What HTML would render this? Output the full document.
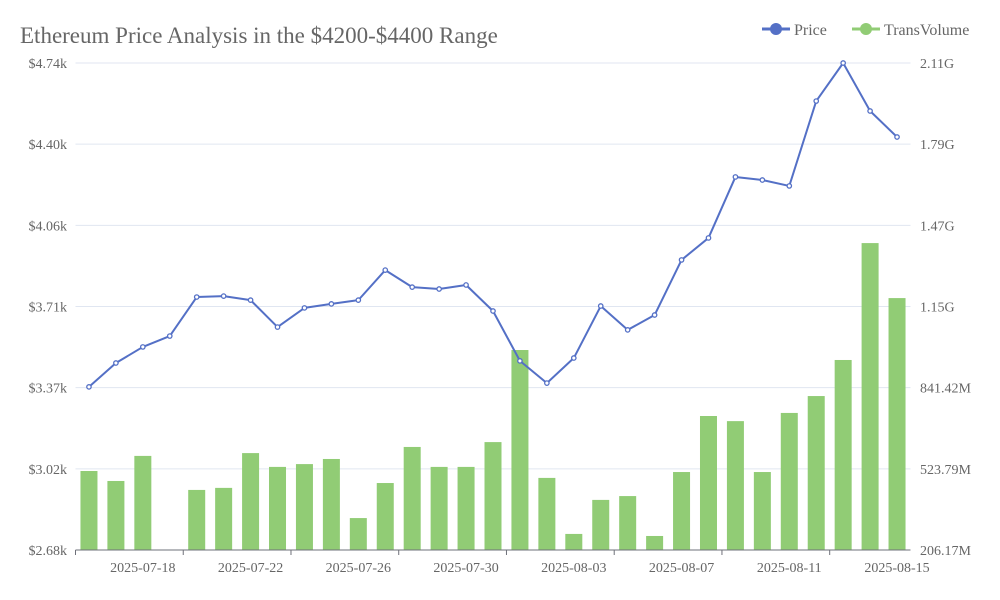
<!DOCTYPE html>
<html><head><meta charset="utf-8">
<style>
html,body{margin:0;padding:0;background:#fff;}
svg{display:block;font-family:"Liberation Serif",serif;}
</style></head>
<body>
<svg id="chart" width="1000" height="600">
<text x="20" y="43" font-size="23" fill="#666">Ethereum Price Analysis in the $4200-$4400 Range</text>
<g>
 <g>
  <line x1="762" y1="29" x2="790" y2="29" stroke="#5470c6" stroke-width="3"/>
  <circle cx="776" cy="29" r="6" fill="#5470c6"/>
  <text x="794" y="35" font-size="16" fill="#666">Price</text>
 </g>
 <g>
  <line x1="852" y1="29" x2="880" y2="29" stroke="#91cc75" stroke-width="3"/>
  <circle cx="866" cy="29" r="6" fill="#91cc75"/>
  <text x="884" y="35" font-size="16" fill="#666">TransVolume</text>
 </g>
</g>
<g id="grid"></g><g id="bars"></g><g id="line"></g><g id="axes"></g>
</svg>
<script>
const categories=["2025-07-16","2025-07-17","2025-07-18","2025-07-19","2025-07-20","2025-07-21","2025-07-22","2025-07-23","2025-07-24","2025-07-25","2025-07-26","2025-07-27","2025-07-28","2025-07-29","2025-07-30","2025-07-31","2025-08-01","2025-08-02","2025-08-03","2025-08-04","2025-08-05","2025-08-06","2025-08-07","2025-08-08","2025-08-09","2025-08-10","2025-08-11","2025-08-12","2025-08-13","2025-08-14","2025-08-15"];
const priceValues=[3370,3471,3539,3585,3750,3754,3737,3623,3704,3721,3737,3864,3792,3784,3801,3691,3480,3386,3492,3712,3611,3674,3907,4000,4258,4245,4220,4579,4740,4537,4427];
const volumeValues=[515,476,574,null,441,449,585,531,542,562,331,468,609,531,531,628,988,488,269,402,417,261,511,730,710,511,742,808,949,1406,1191];
const leftTicks=["$2.68k","$3.02k","$3.37k","$3.71k","$4.06k","$4.40k","$4.74k"];
const rightTicks=["206.17M","523.79M","841.42M","1.15G","1.47G","1.79G","2.11G"];
const priceMin=2680, priceMax=4740, volMin=206.17, volMax=2110;
const L=75.5,R=910.5,T=63,B=550;
const NS="http://www.w3.org/2000/svg";
const bw=(R-L)/categories.length;
const xC=i=>L+bw*(i+0.5);
const yP=v=>B-(v-priceMin)/(priceMax-priceMin)*(B-T);
const yV=v=>B-(v-volMin)/(volMax-volMin)*(B-T);
function mk(tag,attrs,parent){const e=document.createElementNS(NS,tag);for(const k in attrs)e.setAttribute(k,attrs[k]);document.getElementById(parent).appendChild(e);return e;}
for(let i=0;i<leftTicks.length;i++){
 const y=B-i*(B-T)/(leftTicks.length-1);
 const g=mk('line',{x1:L,x2:R,y1:y,y2:y,stroke:i==0?'#6e7079':'#e0e6f1','stroke-width':1},i==0?'axes':'grid');
 
 
 const t=mk('text',{x:67,y:y+5,'text-anchor':'end','font-size':14,fill:'#666'},'axes');t.textContent=leftTicks[i];
 
 
 const t2=mk('text',{x:920,y:y+5,'font-size':14,fill:'#666'},'axes');t2.textContent=rightTicks[i];
 
 
}
for(let i=0;i<categories.length;i++){
 if(i%4==0){const tk=mk('line',{x1:L+bw*i,x2:L+bw*i,y1:B,y2:B+5,stroke:'#6e7079'},'axes');
  
  }
 if(i%4==2){const t=mk('text',{x:xC(i),y:572,'text-anchor':'middle','font-size':14,fill:'#666'},'axes');t.textContent=categories[i];
  
  }
 const v=volumeValues[i];
 if(v!=null){const r=mk('rect',{x:xC(i)-8.5,y:yV(v),width:17,height:B-yV(v),fill:'#91cc75'},'bars');
  
  }
}
const pl=mk('polyline',{points:priceValues.map((v,i)=>xC(i)+','+yP(v)).join(' '),fill:'none',stroke:'#5470c6','stroke-width':2,'stroke-linejoin':'round'},'line');


priceValues.forEach((v,i)=>{const c=mk('circle',{cx:xC(i),cy:yP(v),r:2.2,fill:'#fff',stroke:'#5470c6','stroke-width':1.3},'line');
 
 });
</script>
</body></html>
